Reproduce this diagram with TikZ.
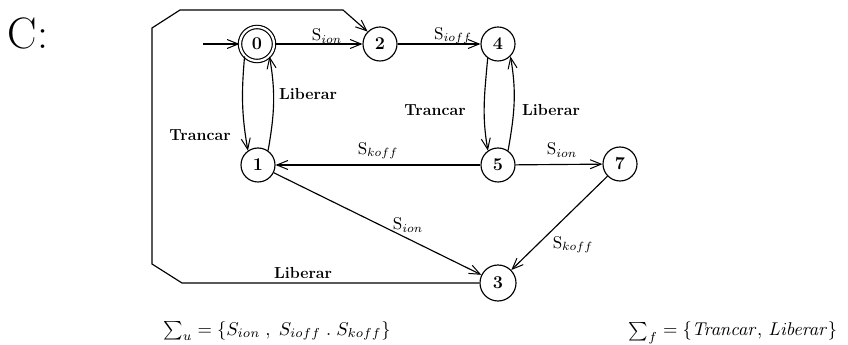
\documentclass[tikz,border=0pt]{standalone}
\usetikzlibrary{arrows.meta}
\begin{document}
\begin{tikzpicture}[x=1pt,y=1pt,
  state/.style={circle,draw,line width=1.15pt,minimum size=34pt,inner sep=0pt,
    font=\fontsize{18}{20}\selectfont\bfseries},
  lbl/.style={inner sep=0pt,font=\fontsize{16}{18}\selectfont\bfseries},
  slbl/.style={inner sep=0pt,font=\fontsize{10}{12}\selectfont,scale=1.7},
  setlbl/.style={inner sep=0pt,font=\fontsize{10}{12}\selectfont,scale=1.85},
  tr/.style={line width=1.15pt,-{Straight Barb[length=11pt,width=9pt,line width=1pt]}}]
\useasboundingbox (0,0) rectangle (848,345);

% title
\node[inner sep=0pt,font=\fontsize{44}{48}\selectfont] (title) at (28,312) {C:};

% states
\node[state,double,double distance=2.2pt] (n0) at (257,301) {0};
\node[state] (n2) at (380,301) {2};
\node[state] (n4) at (498,301) {4};
\node[state] (n1) at (258,180) {1};
\node[state] (n5) at (498,180) {5};
\node[state] (n7) at (620,181) {7};
\node[state,minimum size=36pt] (n3) at (498,62) {3};

% initial arrow
\coordinate (init) at (203,301);
\draw[tr] (init) -- (n0);

% corners of the long Liberar edge from 3 back to 2
\coordinate (c1) at (182,62);
\coordinate (c2) at (152,81);
\coordinate (c3) at (152,317);
\coordinate (c4) at (180,335);
\coordinate (c5) at (343,335);

% transitions
\draw[tr] (n0) -- (n2);
\draw[tr] (n2) -- (n4);
\draw[tr] (n0.225) to[out=-95,in=100] (n1.125);
\draw[tr] (n1.55) to[out=80,in=-80] (n0.-45);
\draw[tr] (n4.234) to[out=-95,in=100] (n5.125);
\draw[tr] (n5.55) to[out=80,in=-80] (n4.-45);
\draw[tr] (n5) -- (n1);
\draw[tr] (n5) -- (n7);
\draw[tr] (n1) -- (n3);
\draw[tr] (n7) -- (n3);
\draw[tr] (n3) -- (c1) -- (c2) -- (c3) -- (c4) -- (c5) -- (n2.135);

% transition labels
\node[slbl] (l02) at (327,309) {$\mathrm{S}_{ion}$};
\node[slbl] (l24) at (453,309) {$\mathrm{S}_{ioff}$};
\node[lbl] (l10) at (308,251) {Liberar};
\node[lbl] (l01) at (200,210) {Trancar};
\node[lbl] (l45) at (435,235) {Trancar};
\node[lbl] (l54) at (551,235) {Liberar};
\node[slbl] (l51) at (378,194) {$\mathrm{S}_{koff}$};
\node[slbl] (l57) at (562,195) {$\mathrm{S}_{ion}$};
\node[slbl] (l13) at (408,120) {$\mathrm{S}_{ion}$};
\node[slbl] (l73) at (573,100) {$\mathrm{S}_{koff}$};
\node[lbl] (l32) at (303,72) {Liberar};

% event sets
\node[setlbl] (su) at (277,14)
  {$\textstyle\sum_u=\{S_{ion}\;,\;S_{ioff}\;.\;S_{koff}\}$};
\node[setlbl] (sf) at (733,12)
  {$\textstyle\sum_f=\{\mathit{Trancar},\,\mathit{Liberar}\}$};
\end{tikzpicture}
\end{document}
